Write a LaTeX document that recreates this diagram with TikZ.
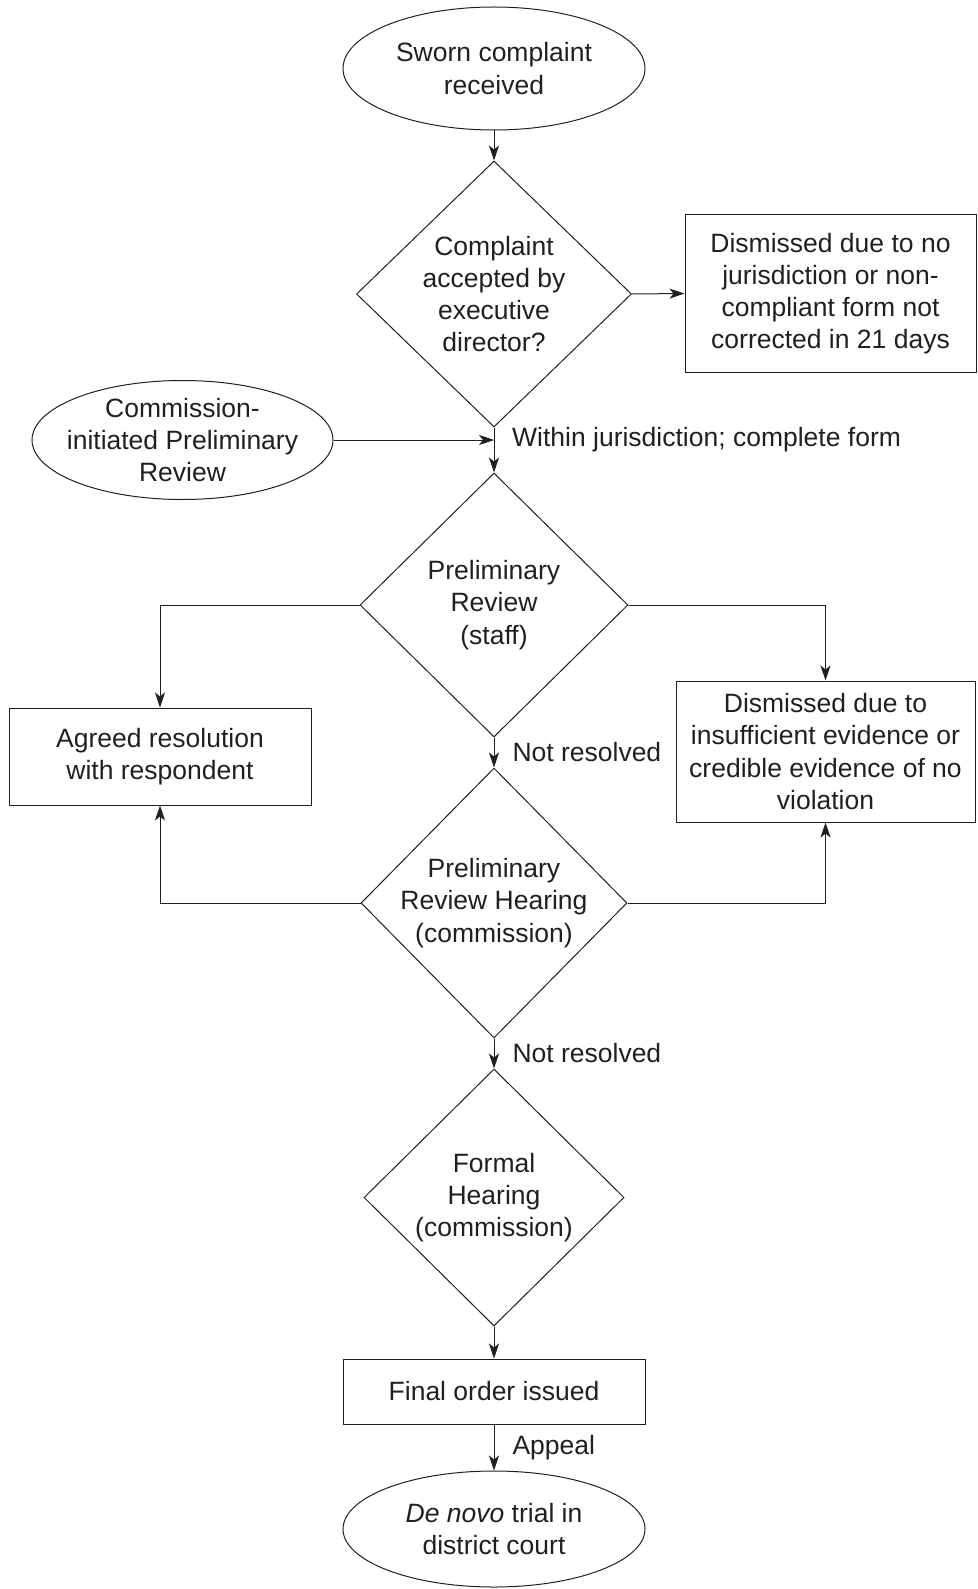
\documentclass[tikz,border=0pt]{standalone}
\usepackage{fontspec}
\setmainfont{Liberation Sans}
\usepackage{xcolor}
\usetikzlibrary{shapes.geometric, arrows.meta}
\definecolor{ink}{HTML}{231F20}

\begin{document}
\begin{tikzpicture}[x=1pt, y=-1pt,
    every node/.style={font=\fontsize{26.5}{32.2}\selectfont, text=ink},
    term/.style={draw=ink, ellipse, line width=1pt, inner xsep=-25pt, inner ysep=-5pt, align=center},
    decision/.style={draw=ink, diamond, line width=1pt, inner sep=-12pt, align=center},
    procbox/.style={draw=ink, rectangle, line width=1pt, inner sep=0pt, align=center},
    flow/.style={draw=ink, line width=1pt, -{Stealth[length=15pt, width=10pt, inset=4pt]}},
    flowlabel/.style={anchor=west, inner sep=0pt, xshift=18pt}]
    \useasboundingbox (0,0) rectangle (977,1589);

    % Start
    \node[term, minimum width=302pt, minimum height=123pt] (sworn) at (494,68.5) {Sworn complaint\\received};

    % Acceptance
    \node[decision, minimum width=275pt, minimum height=266pt] (accept) at (494,294) {Complaint\\accepted by\\executive\\director?};
    \node[procbox, minimum width=291pt, minimum height=157pt] (nojur) at (830.5,293.5) {Dismissed due to no\\jurisdiction or non-\\compliant form not\\corrected in 21 days};

    % Commission-initiated review
    \node[term, minimum width=301pt, minimum height=119pt] (cipr) at (182.5,440) {Commission-\\initiated Preliminary\\Review};

    % Preliminary review
    \node[decision, minimum width=268pt, minimum height=264pt] (prelim) at (494,605) {Preliminary\\Review\\(staff)};
    \node[procbox, minimum width=302pt, minimum height=97pt] (agreed) at (160,756.5) {Agreed resolution\\with respondent};
    \node[procbox, minimum width=299pt, minimum height=141pt] (dismissed) at (825.5,751.5) {Dismissed due to\\insufficient evidence or\\credible evidence of no\\violation};

    % Hearings
    \node[decision, minimum width=266pt, minimum height=270pt] (hearing) at (494,903) {Preliminary\\Review Hearing\\(commission)};
    \node[decision, minimum width=260pt, minimum height=257pt] (formal) at (494,1197.5) {Formal\\Hearing\\(commission)};

    % End
    \node[procbox, minimum width=302pt, minimum height=65pt] (final) at (494,1391.5) {Final order issued};
    \node[term, minimum width=302pt, minimum height=116pt] (trial) at (494,1529) {\textit{De novo} trial in\\district court};

    % Connectors
    \draw[flow] (sworn.south) -- (accept.north);
    \draw[flow] (accept.east) -- (nojur.west);
    \draw[flow] (accept.south) -- (prelim.north);
    \coordinate (merge) at (accept.south |- cipr.east);
    \draw[flow] (cipr.east) -- (merge);
    \node[flowlabel] (jurlabel) at (merge) {Within jurisdiction; complete form};

    \draw[flow] (prelim.west) -| (agreed.north);
    \draw[flow] (prelim.east) -| (dismissed.north);
    \draw[flow] (prelim.south) -- (hearing.north) node[flowlabel, midway] (nr1) {Not resolved};

    \draw[flow] (hearing.west) -| (agreed.south);
    \draw[flow] (hearing.east) -| (dismissed.south);
    \draw[flow] (hearing.south) -- (formal.north) node[flowlabel, midway] (nr2) {Not resolved};

    \draw[flow] (formal.south) -- (final.north);
    \draw[flow] (final.south) -- (trial.north) node[flowlabel, midway] (appeal) {Appeal};
\end{tikzpicture}
\end{document}
